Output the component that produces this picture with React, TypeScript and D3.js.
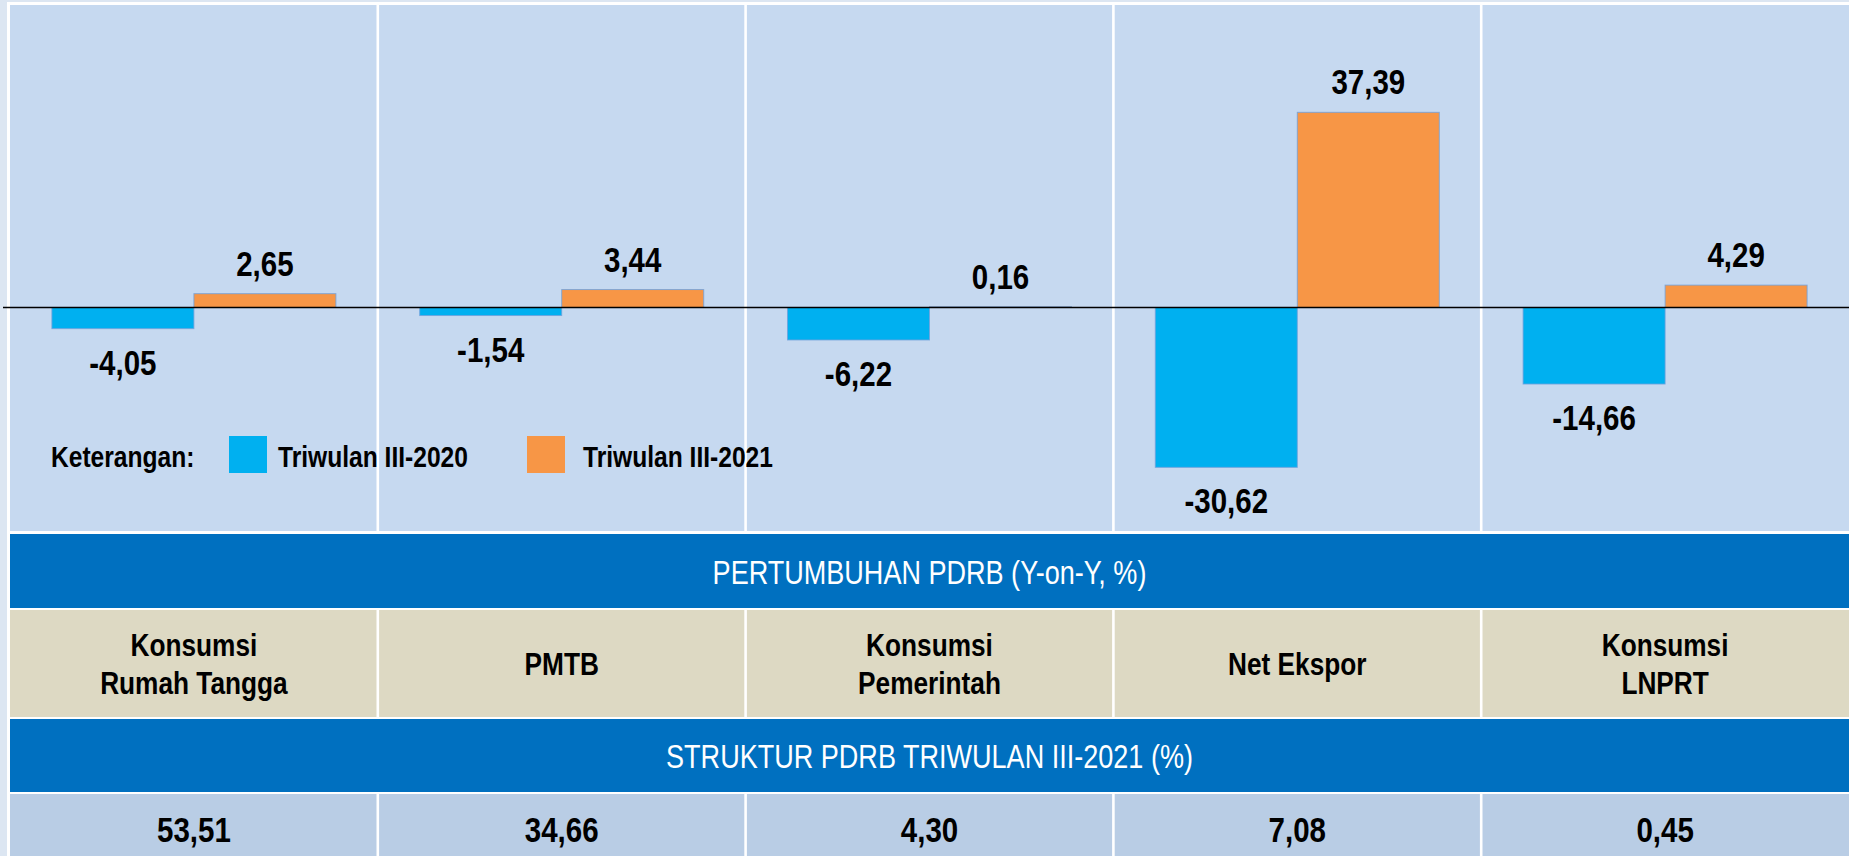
import React, { useEffect } from "react";
import * as d3 from "d3";

const categories = ["Konsumsi Rumah Tangga", "PMTB", "Konsumsi Pemerintah", "Net Ekspor", "Konsumsi LNPRT"];
const categoryLines = [["Konsumsi", "Rumah Tangga"], ["PMTB"], ["Konsumsi", "Pemerintah"], ["Net Ekspor"], ["Konsumsi", "LNPRT"]];
const seriesNames = ["Triwulan III-2020", "Triwulan III-2021"];
const values2020 = [-4.05, -1.54, -6.22, -30.62, -14.66];
const values2021 = [2.65, 3.44, 0.16, 37.39, 4.29];
const structure2021 = [53.51, 34.66, 4.3, 7.08, 0.45];
const headerGrowth = "PERTUMBUHAN PDRB (Y-on-Y, %)";
const headerStructure = "STRUKTUR PDRB TRIWULAN III-2021 (%)";
const legendTitle = "Keterangan:";

const W = 1849;
const H = 856;
const FONT = "'Liberation Sans', Arial, sans-serif";
const NARROW = 0.82;
const colors = ["#00b0f0", "#f79646"];
const fmt = (v: number) => v.toFixed(2).replace(".", ",");

type NTextProps = {
  x: number;
  y: number;
  size: number;
  bold?: boolean;
  fill?: string;
  anchor?: "start" | "middle" | "end";
  children: React.ReactNode;
};

function NText({ x, y, size, bold = true, fill = "#000", anchor = "middle", children }: NTextProps) {
  return (
    <text
      transform={`translate(${x},${y}) scale(${NARROW},1)`}
      x={0}
      y={0}
      textAnchor={anchor}
      fontFamily={FONT}
      fontWeight={bold ? "bold" : "normal"}
      fontSize={size}
      fill={fill}
    >
      {children}
    </text>
  );
}

export default function App() {
  useEffect(() => {
    document.body.style.margin = "0";
    document.body.style.overflow = "hidden";
  }, []);

  const left = 10;
  const x0 = d3.scaleBand<string>().domain(categories).range([left, W]).paddingInner(0).paddingOuter(0);
  const x1 = d3.scaleBand<string>().domain(seriesNames).range([0, x0.bandwidth()]).paddingInner(0).paddingOuter(0.295);
  const zeroY = 307.5;
  const k = 5.22;
  const y = d3.scaleLinear().domain([-40, 40]).range([zeroY + 40 * k, zeroY - 40 * k]);

  const series = [values2020, values2021];
  const panelTop = 5, panelBottom = 531;
  const row1Top = 534, row1Bottom = 608;
  const row2Top = 610, row2Bottom = 717;
  const row3Top = 719, row3Bottom = 792;
  const row4Top = 794, row4Bottom = 860;

  const edges = categories.slice(1).map((c) => x0(c) as number);

  return (
    <svg width={W} height={H} style={{ display: "block", position: "absolute", left: 0, top: 0 }}>
      <rect x={0} y={0} width={W} height={H} fill="#dce6f2" />
      <rect x={7} y={2} width={W - 7} height={H - 2} fill="#ffffff" />
      <rect x={left} y={panelTop} width={W - left} height={panelBottom - panelTop} fill="#c6d9f0" />
      <rect x={left} y={row1Top} width={W - left} height={row1Bottom - row1Top} fill="#0070c0" />
      <rect x={left} y={row2Top} width={W - left} height={row2Bottom - row2Top} fill="#ddd9c3" />
      <rect x={left} y={row3Top} width={W - left} height={row3Bottom - row3Top} fill="#0070c0" />
      <rect x={left} y={row4Top} width={W - left} height={row4Bottom - row4Top} fill="#b9cde5" />
      {edges.map((e, i) => (
        <g key={i}>
          <line x1={e} x2={e} y1={panelTop} y2={panelBottom} stroke="#ffffff" strokeWidth={2.6} />
          <line x1={e} x2={e} y1={row2Top} y2={row2Bottom} stroke="#ffffff" strokeWidth={2.6} />
          <line x1={e} x2={e} y1={row4Top} y2={row4Bottom} stroke="#ffffff" strokeWidth={2.6} />
        </g>
      ))}

      {/* bars */}
      {categories.map((c, ci) => (
        <g key={c} transform={`translate(${x0(c)},0)`}>
          {series.map((vals, si) => {
            const v = vals[ci];
            const bx = x1(seriesNames[si]) as number;
            const top = Math.min(y(v), y(0));
            const h = Math.abs(y(v) - y(0));
            return (
              <rect key={si} x={bx} y={top} width={x1.bandwidth()} height={h} fill={colors[si]} stroke="#6fa0dc" strokeWidth={1} strokeOpacity={0.8} />
            );
          })}
        </g>
      ))}

      <line x1={3} x2={W} y1={zeroY} y2={zeroY} stroke="#000000" strokeWidth={1.5} />

      {/* data labels */}
      {categories.map((c, ci) =>
        series.map((vals, si) => {
          const v = vals[ci];
          const cx = (x0(c) as number) + (x1(seriesNames[si]) as number) + x1.bandwidth() / 2;
          const by = v >= 0 ? y(v) - 18 : y(v) + 46;
          return (
            <NText key={c + si} x={cx} y={by} size={36}>
              {fmt(v)}
            </NText>
          );
        })
      )}

      {/* legend */}
      <NText x={51} y={467} size={30} anchor="start">{legendTitle}</NText>
      <rect x={229} y={436} width={38} height={37} fill={colors[0]} />
      <NText x={278} y={467} size={30} anchor="start">{seriesNames[0]}</NText>
      <rect x={527} y={436} width={38} height={37} fill={colors[1]} />
      <NText x={583} y={467} size={30} anchor="start">{seriesNames[1]}</NText>

      {/* table headers */}
      <NText x={(left + W) / 2} y={584} size={33} bold={false} fill="#ffffff">{headerGrowth}</NText>
      <NText x={(left + W) / 2} y={768} size={33} bold={false} fill="#ffffff">{headerStructure}</NText>

      {/* category labels */}
      {categories.map((c, ci) => {
        const cx = (x0(c) as number) + x0.bandwidth() / 2;
        const lines = categoryLines[ci];
        const mid = (row2Top + row2Bottom) / 2;
        return (
          <g key={c + "c"}>
            {lines.map((ln, li) => (
              <NText key={li} x={cx} y={mid + 11.5 + (li - (lines.length - 1) / 2) * 38} size={32}>
                {ln}
              </NText>
            ))}
          </g>
        );
      })}

      {/* structure values */}
      {categories.map((c, ci) => (
        <NText key={c + "s"} x={(x0(c) as number) + x0.bandwidth() / 2} y={842} size={36}>
          {fmt(structure2021[ci])}
        </NText>
      ))}
    </svg>
  );
}
